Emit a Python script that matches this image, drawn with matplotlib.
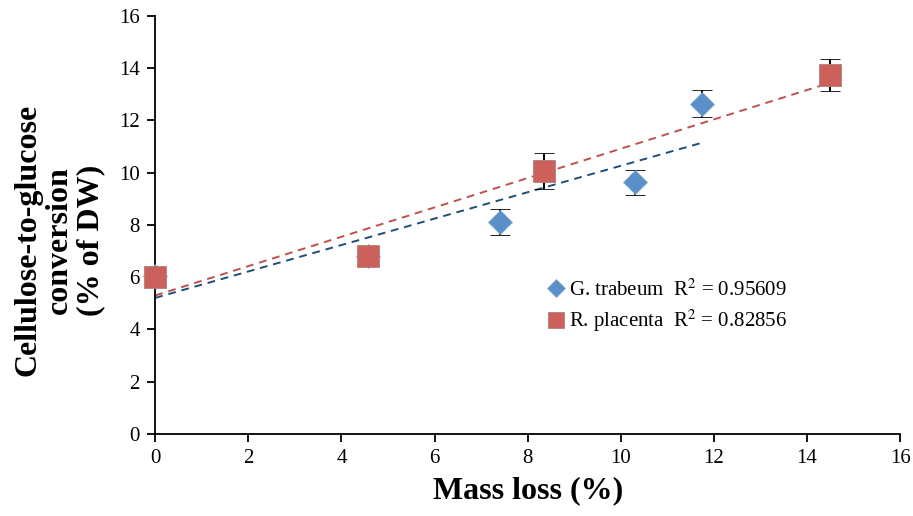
import numpy as np
import matplotlib.pyplot as plt

# G. trabeum (first two points sit under the R. placenta squares)
gt_mass_loss = [0.0, 4.57, 7.4, 10.3, 11.75]
gt_conversion = [6.05, 6.82, 8.1, 9.63, 12.65]
gt_error = [0.3, 0.3, 0.5, 0.48, 0.53]

# R. placenta
rp_mass_loss = [0.0, 4.57, 8.35, 14.5]
rp_conversion = [6.0, 6.8, 10.07, 13.74]
rp_error = [0.35, 0.33, 0.69, 0.6]

gt_label = 'G. trabeum  R$^2$ = 0.95609'
rp_label = 'R. placenta  R$^2$ = 0.82856'

SERIF = ['Liberation Serif', 'DejaVu Serif']


def trend(x, y):
    k, b = np.polyfit(x, y, 1)
    xs = np.array([min(x), max(x)])
    return xs, k * xs + b


def main():
    plt.rcParams['font.family'] = SERIF
    plt.rcParams['mathtext.fontset'] = 'stix'
    fig = plt.figure(figsize=(9.13, 5.16), dpi=100)
    ax = fig.add_axes([0.17, 0.159, 0.816, 0.81])

    # trend lines
    xs, ys = trend(gt_mass_loss, gt_conversion)
    ax.plot(xs, ys, '--', color='#1F4E79', lw=1.4, dashes=(4, 3), zorder=2)
    xs, ys = trend(rp_mass_loss, rp_conversion)
    ax.plot(xs, ys, '--', color='#C0504D', lw=1.4, dashes=(4, 3), zorder=2)

    gt = ax.errorbar(gt_mass_loss, gt_conversion, yerr=gt_error, fmt='D',
                     color='#5B8FC9', markersize=12, markeredgecolor='#8AAAD0',
                     markeredgewidth=0.6, ecolor='black', elinewidth=1.4,
                     capsize=7, capthick=1.4, label=gt_label, zorder=3)
    rp = ax.errorbar(rp_mass_loss, rp_conversion, yerr=rp_error, fmt='s',
                     color='#CC605B', markersize=16, markeredgecolor='#B0807D',
                     markeredgewidth=0.6, ecolor='black', elinewidth=1.4,
                     capsize=7, capthick=1.4, label=rp_label, zorder=4)
    for cont in (gt, rp):
        for art in cont.get_children():
            art.set_clip_on(False)

    ax.set_xlim(0, 16)
    ax.set_ylim(0, 16)
    ax.set_xticks(range(0, 17, 2))
    ax.set_yticks(range(0, 17, 2))
    ax.tick_params(labelsize=15, direction='out', length=6, width=1.3, pad=5)
    for s in ['top', 'right']:
        ax.spines[s].set_visible(False)
    for s in ['left', 'bottom']:
        ax.spines[s].set_linewidth(1.3)

    ax.set_xlabel('Mass loss (%)', fontsize=23, fontweight='bold')
    ax.xaxis.set_label_coords(0.5, -0.1)
    ax.set_ylabel('Cellulose-to-glucose\nconversion\n(% of DW)', fontsize=23,
                  fontweight='bold', linespacing=1.1)
    ax.yaxis.set_label_coords(-0.067, 0.464)

    handles, labels = ax.get_legend_handles_labels()
    handles = [h[0] for h in handles]
    ax.legend(handles, labels, loc='center left', bbox_to_anchor=(0.505, 0.305),
              frameon=False, fontsize=15, handlelength=0.6, handletextpad=0.3,
              labelspacing=0.35, markerscale=0.75)

    fig.savefig('out.png', dpi=100)
    plt.close(fig)


if __name__ == '__main__':
    main()
